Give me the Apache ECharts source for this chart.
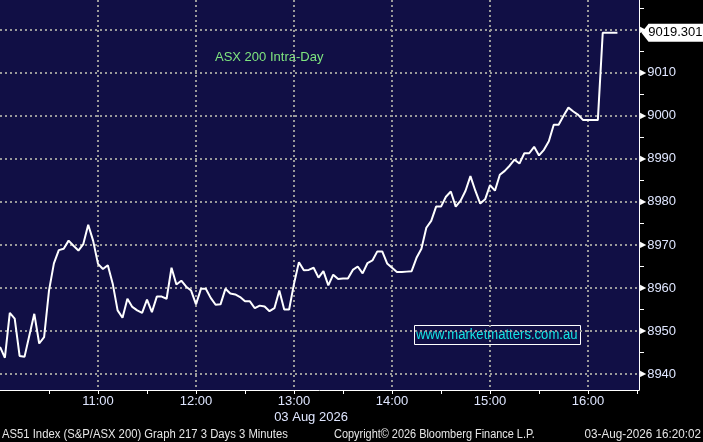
<!DOCTYPE html>
<html>
<head>
<meta charset="utf-8">
<script src="https://cdn.jsdelivr.net/npm/echarts@6/dist/echarts.min.js"></script>
<style>
html, body { margin: 0; padding: 0; background: #000; }
#chart { width: 703px; height: 442px; }
</style>
</head>
<body>
<div id="chart"></div>
<script>
// ASX 200 intra-day, 3 minute bars starting 10:00
const values = [
    8946.3, 8943.8, 8954.2, 8952.9, 8944.2, 8944.0, 8949.0, 8954.0, 8947.1, 8948.6,
    8959.4, 8965.7, 8968.8, 8969.1, 8971.0, 8969.8, 8968.7, 8970.2, 8974.7, 8971.0,
    8965.6, 8964.4, 8965.3, 8961.0, 8954.8, 8953.1, 8957.5, 8955.6, 8954.8, 8954.2,
    8957.3, 8954.4, 8958.0, 8958.0, 8957.5, 8964.7, 8960.8, 8961.7, 8960.3, 8959.4,
    8956.2, 8959.8, 8959.8, 8957.7, 8956.1, 8956.2, 8959.8, 8958.7, 8958.5, 8957.9,
    8956.9, 8956.9, 8955.3, 8955.9, 8955.7, 8954.6, 8955.3, 8959.4, 8955.0, 8955.0,
    8961.0, 8966.0, 8964.1, 8964.2, 8964.7, 8962.4, 8963.9, 8960.6, 8963.1, 8962.1,
    8962.2, 8962.2, 8964.2, 8965.0, 8963.4, 8965.8, 8966.4, 8968.5, 8968.5, 8965.7,
    8964.7, 8963.7, 8963.7, 8963.8, 8963.9, 8967.0, 8969.1, 8974.0, 8975.6, 8978.9,
    8978.9, 8981.2, 8982.4, 8978.9, 8980.3, 8982.6, 8986.0, 8982.6, 8979.6, 8980.6,
    8983.9, 8982.6, 8986.3, 8987.2, 8988.4, 8989.8, 8988.9, 8991.3, 8991.3, 8992.8,
    8990.8, 8992.1, 8994.1, 8997.9, 8997.9, 9000.0, 9001.9, 9001.0, 9000.2, 8999.0,
    8999.0, 8999.0, 8999.0, 9019.3, 9019.3, 9019.3, 9019.301
];
const barMinutes = 3;
const lastPrice = 9019.301;

const yLabelValues = [8940, 8950, 8960, 8970, 8980, 8990, 9000, 9010, 9020];
const yMinorValues = [8945, 8955, 8965, 8975, 8985, 8995, 9005, 9015, 9025];
const yRange = [8936.3, 9026.9];
const xRange = [0, 391.2];   // minutes after 10:00
const hourLabels = ['11:00', '12:00', '13:00', '14:00', '15:00', '16:00'];

const NAVY = '#110f45';
const AXIS_TEXT = '#dfe6ff';
const FOOT_TEXT = '#e6e6e6';
const FONT = 'Liberation Sans';

const chart = echarts.init(document.getElementById('chart'));

const gridDots = { color: '#9a9a9a', width: 2, type: [2, 3] };

// footer / annotation text helper
function label(x, y, text, opts) {
    return {
        type: 'text', x: x, y: y,
        scaleX: opts.scaleX || 1,
        style: {
            text: text,
            fill: opts.fill || FOOT_TEXT,
            font: (opts.size || 12) + 'px "Liberation Sans"',
            align: opts.align || 'left',
            verticalAlign: 'middle'
        }
    };
}

chart.setOption({
    backgroundColor: '#000',
    animation: false,
    textStyle: { fontFamily: FONT },
    grid: {
        left: 0, right: 64, top: 0, bottom: 52,
        show: true, backgroundColor: NAVY, borderWidth: 0,
        outerBoundsMode: 'none'
    },
    xAxis: [{
        type: 'value',
        position: 'bottom',
        min: xRange[0], max: xRange[1], interval: 30,
        axisLine: { show: true, onZero: false, lineStyle: { color: '#fff', width: 1 } },
        axisTick: { show: true, length: 4, lineStyle: { color: '#fff' } },
        axisLabel: {
            color: AXIS_TEXT, fontSize: 13, margin: 5,
            showMaxLabel: false, showMinLabel: false,
            formatter: v => (v > 0 && v % 60 === 0) ? (hourLabels[v / 60 - 1] || '') : ''
        },
        splitLine: { show: false }
    }, {
        type: 'value',
        position: 'bottom',
        min: xRange[0], max: xRange[1], interval: 60,
        axisLine: { show: false, onZero: false },
        axisTick: { show: false },
        axisLabel: { show: false },
        splitLine: { show: true, showMinLine: false, showMaxLine: false, lineStyle: gridDots }
    }],
    yAxis: [{
        type: 'value',
        position: 'right',
        min: yRange[0], max: yRange[1],
        axisLine: { show: true, onZero: false, lineStyle: { color: '#fff', width: 1 } },
        axisTick: { show: true, length: 5, customValues: yMinorValues, lineStyle: { color: '#fff' } },
        axisLabel: {
            customValues: yLabelValues,
            margin: 1,
            formatter: v => '{t|\u25B6}{v|' + v + '}',
            rich: {
                t: { color: '#fff', fontSize: 8, fontFamily: 'DejaVu Sans', padding: [0, 1, 0, 0] },
                v: { color: AXIS_TEXT, fontSize: 13, fontFamily: FONT }
            }
        },
        splitLine: { show: false }
    }, {
        type: 'value',
        position: 'right',
        min: yRange[0], max: yRange[1],
        axisLine: { show: false, onZero: false },
        axisTick: { show: false, customValues: yLabelValues },
        axisLabel: { show: false, customValues: yLabelValues },
        splitLine: { show: true, lineStyle: gridDots }
    }],
    series: [{
        type: 'line',
        xAxisIndex: 0,
        yAxisIndex: 0,
        data: values.map((v, i) => [i * barMinutes, v]),
        showSymbol: false,
        lineStyle: { color: '#fff', width: 2 },
        markPoint: {
            symbol: 'path://M0,9 L8,0 L70,0 L70,18 L8,18 Z',
            symbolSize: [62, 18],
            symbolOffset: [55, 0],
            itemStyle: { color: '#fff' },
            label: {
                show: true, position: 'inside', offset: [3, 0],
                color: '#000', fontSize: 13, fontFamily: FONT,
                formatter: () => lastPrice.toFixed(3)
            },
            data: [{ coord: [(values.length - 1) * barMinutes, lastPrice], value: lastPrice }]
        }
    }],
    graphic: [
        {
            type: 'text', left: 215, top: 51,
            style: { text: 'ASX 200 Intra-Day', fill: '#7fe57f', font: '13px "Liberation Sans"' }
        },
        {
            type: 'rect',
            shape: { x: 414.5, y: 325.5, width: 166, height: 19 },
            style: { fill: 'none', stroke: '#fff', lineWidth: 1 }
        },
        label(416, 335, 'www.marketmatters.com.au', { fill: '#13e4e4', size: 14, scaleX: 0.935 }),
        label(311, 417, '03 Aug 2026', { fill: AXIS_TEXT, size: 13, align: 'center' }),
        label(2, 435, 'AS51 Index (S&P/ASX 200) Graph 217 3 Days 3 Minutes', { scaleX: 0.94 }),
        label(334, 435, 'Copyright\u00a9 2026 Bloomberg Finance L.P.', { scaleX: 0.91 }),
        label(701, 435, '03-Aug-2026 16:20:02', { align: 'right', scaleX: 0.975 })
    ]
});
</script>
</body>
</html>
